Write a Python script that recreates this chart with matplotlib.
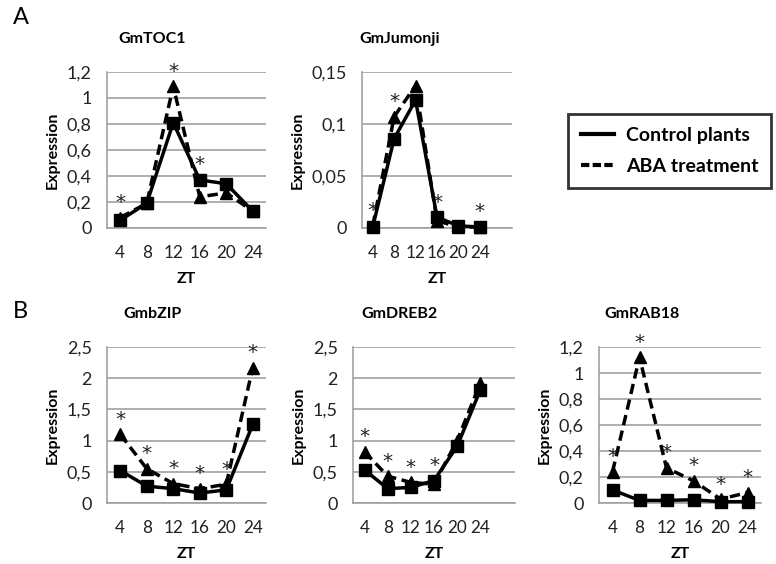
import matplotlib
matplotlib.use("Agg")
import matplotlib.pyplot as plt
from matplotlib.lines import Line2D

plt.rcParams['font.family'] = ['Lato', 'DejaVu Sans']

zt_labels = ["4", "8", "12", "16", "20", "24"]

genes = ["GmTOC1", "GmJumonji", "GmbZIP", "GmDREB2", "GmRAB18"]

toc1_control = [0.06, 0.19, 0.81, 0.37, 0.34, 0.13]
toc1_aba = [0.08, 0.19, 1.09, 0.24, 0.27, 0.13]
toc1_sig = [True, False, True, True, False, False]

jum_control = [0.001, 0.086, 0.123, 0.0105, 0.002, 0.001]
jum_aba = [0.002, 0.107, 0.137, 0.007, 0.001, 0.001]
jum_sig = [True, True, False, True, False, True]

bzip_control = [0.52, 0.27, 0.23, 0.16, 0.21, 1.26]
bzip_aba = [1.10, 0.55, 0.31, 0.23, 0.30, 2.17]
bzip_sig = [True, True, True, True, True, True]

dreb_control = [0.53, 0.23, 0.25, 0.36, 0.91, 1.81]
dreb_aba = [0.82, 0.43, 0.33, 0.30, 1.00, 1.92]
dreb_sig = [True, True, True, True, False, False]

rab_control = [0.10, 0.02, 0.02, 0.025, 0.01, 0.01]
rab_aba = [0.24, 1.12, 0.27, 0.17, 0.03, 0.08]
rab_sig = [True, True, True, True, True, True]

toc1_yticks = [0, 0.2, 0.4, 0.6, 0.8, 1.0, 1.2]
toc1_ylabels = ["0", "0,2", "0,4", "0,6", "0,8", "1", "1,2"]
jum_yticks = [0, 0.05, 0.10, 0.15]
jum_ylabels = ["0", "0,05", "0,1", "0,15"]
bzip_yticks = [0, 0.5, 1.0, 1.5, 2.0, 2.5]
bzip_ylabels = ["0", "0,5", "1", "1,5", "2", "2,5"]
rab_yticks = toc1_yticks
rab_ylabels = toc1_ylabels

W, H = 776, 564
fig = plt.figure(figsize=(W / 100, H / 100), dpi=100)


def add_ax(x0, x1, y0, y1):
    return fig.add_axes([x0 / W, (H - y1) / H, (x1 - x0) / W, (y1 - y0) / H])


def panel(ax, title, title_x, control, aba, sig, yticks, ylabels, nbins):
    xs = list(range(len(zt_labels)))
    ax.set_xlim(-0.5, nbins - 0.5)
    ax.set_ylim(yticks[0], yticks[-1])
    ax.set_yticks(yticks)
    ax.set_yticklabels(ylabels)
    ax.set_xticks(xs)
    ax.set_xticklabels(zt_labels)
    ax.tick_params(length=0, colors='#222222')
    ax.tick_params(axis='y', pad=11, labelsize=13)
    ax.tick_params(axis='x', pad=12, labelsize=12.3)
    ax.grid(axis='y', color='#9a9a9a', lw=1.1)
    ax.set_axisbelow(True)
    for s in ['top', 'right']:
        ax.spines[s].set_visible(False)
    ax.spines['left'].set_color('#9a9a9a')
    ax.spines['bottom'].set_color('#9a9a9a')
    ax.spines['left'].set_linewidth(1.1)
    ax.spines['bottom'].set_linewidth(1.1)
    ax.plot(xs, aba, color='black', lw=2.5, ls=(0, (3, 1.6)), marker='^',
            ms=8.5, clip_on=False, zorder=3)
    ax.plot(xs, control, color='black', lw=2.5, marker='s', ms=8,
            clip_on=False, zorder=4)
    for x, c, a, s in zip(xs, control, aba, sig):
        if s:
            ax.annotate('*', (x, max(c, a)), xytext=(0, 4),
                        textcoords='offset points', ha='center', va='bottom',
                        fontsize=14.5, color='#222222', family='DejaVu Sans',
                        annotation_clip=False)
    ax.set_title(title, fontsize=11.5, fontweight='bold', pad=21, x=title_x)
    ax.set_ylabel('Expression', fontsize=11.5, fontweight='bold', labelpad=5)
    ax.set_xlabel('ZT', fontsize=11.5, fontweight='bold', labelpad=8)


ax1 = add_ax(107, 266, 72, 228)
panel(ax1, genes[0], (152 - 107) / (266 - 107), toc1_control, toc1_aba,
      toc1_sig, toc1_yticks, toc1_ylabels, 6)
ax2 = add_ax(362, 512, 72, 228)
panel(ax2, genes[1], (400 - 362) / (512 - 362), jum_control, jum_aba,
      jum_sig, jum_yticks, jum_ylabels, 7)
ax3 = add_ax(107, 266, 347, 503)
panel(ax3, genes[2], (152 - 107) / (266 - 107), bzip_control, bzip_aba,
      bzip_sig, bzip_yticks, bzip_ylabels, 6)
ax4 = add_ax(353, 515, 347, 503)
panel(ax4, genes[3], (399 - 353) / (515 - 353), dreb_control, dreb_aba,
      dreb_sig, bzip_yticks, bzip_ylabels, 7)
ax5 = add_ax(599, 761, 347, 503)
panel(ax5, genes[4], (642 - 599) / (761 - 599), rab_control, rab_aba,
      rab_sig, rab_yticks, rab_ylabels, 6)

fig.text(13 / W, 1 - 18 / H, 'A', fontsize=17, va='center', ha='left')
fig.text(13 / W, 1 - 312 / H, 'B', fontsize=17, va='center', ha='left')

handles = [Line2D([], [], color='black', lw=3),
           Line2D([], [], color='black', lw=3, ls=(0, (2, 0.8)))]
leg = fig.legend(handles, ['Control plants', 'ABA treatment'],
                 loc='center', bbox_to_anchor=((568 + 771) / 2 / W, 1 - (108 + 194) / 2 / H),
                 frameon=True, fancybox=False, edgecolor='black',
                 prop={'weight': 'bold', 'size': 14}, handlelength=1.7,
                 handletextpad=0.6, labelspacing=0.75, borderpad=0.65)
leg.get_frame().set_linewidth(2)

fig.savefig('out.png', dpi=100)
